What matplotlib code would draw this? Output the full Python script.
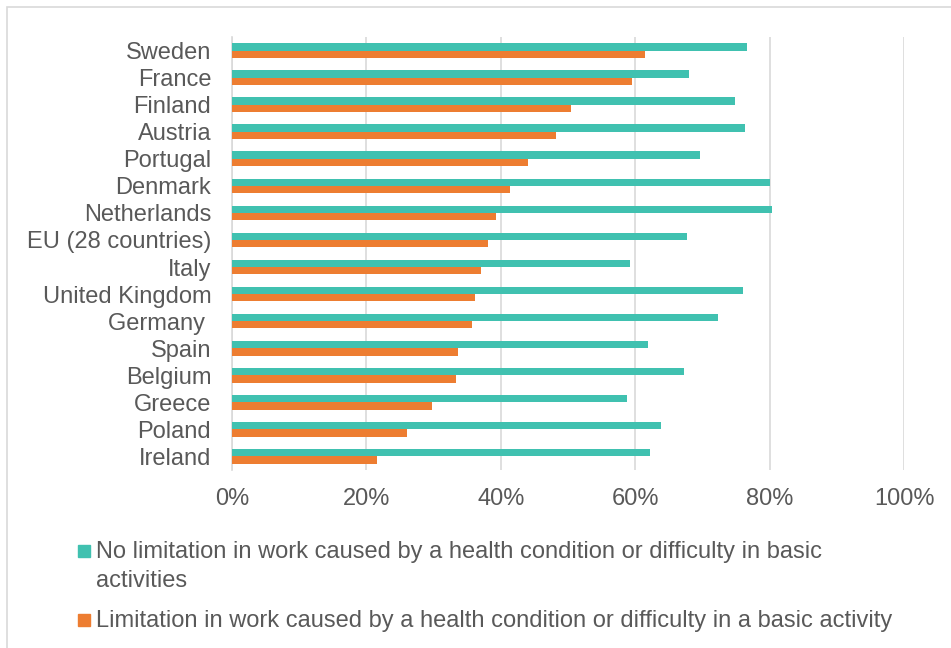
import matplotlib
matplotlib.use("Agg")
import matplotlib.pyplot as plt
from matplotlib.patches import Rectangle
from matplotlib.ticker import PercentFormatter
import numpy as np

countries = ["Sweden", "France", "Finland", "Austria", "Portugal", "Denmark",
             "Netherlands", "EU (28 countries)", "Italy", "United Kingdom",
             "Germany ", "Spain", "Belgium", "Greece", "Poland", "Ireland"]
no_limitation = [76.6, 68.0, 74.8, 76.4, 69.6, 80.1, 80.4, 67.7,
                 59.3, 76.0, 72.3, 61.9, 67.3, 58.8, 63.8, 62.2]
limitation = [61.4, 59.5, 50.5, 48.2, 44.0, 41.4, 39.3, 38.1,
              37.0, 36.1, 35.7, 33.7, 33.4, 29.7, 26.1, 21.6]
labels = ["No limitation in work caused by a health condition or difficulty in basic\nactivities",
          "Limitation in work caused by a health condition or difficulty in a basic activity"]

teal = "#40c1b0"
orange = "#ed7d31"
grey = "#595959"
W, H = 951, 648

plt.rcParams["font.family"] = ["Liberation Sans", "DejaVu Sans"]

fig = plt.figure(figsize=(W / 100, H / 100), dpi=100)
ax = fig.add_axes([232 / W, 1 - 470 / H, 672 / W, 433 / H])

y = np.arange(len(countries))
h = 0.27
ax.barh(y - h / 2, no_limitation, height=h, color=teal, zorder=3)
ax.barh(y + h / 2, limitation, height=h, color=orange, zorder=3)

ax.set_ylim(len(countries) - 0.5, -0.5)
ax.set_xlim(0, 100)
ax.set_yticks(y)
ax.set_yticklabels(countries, fontsize=17, color=grey)
ax.set_xticks(np.arange(0, 101, 20))
ax.xaxis.set_major_formatter(PercentFormatter(decimals=0))
ax.tick_params(axis="x", labelsize=17, labelcolor=grey, length=0, pad=13)
ax.tick_params(axis="y", length=0, pad=15)
ax.grid(axis="x", color="#d9d9d9", linewidth=1.2, zorder=0)
for s in ["top", "right", "bottom"]:
    ax.spines[s].set_visible(False)
ax.spines["left"].set_color("#d9d9d9")
ax.spines["left"].set_linewidth(1.2)

# legend below the plot: square key next to the first line of each entry
baselines = [558, 627]
for color, label, base in zip([teal, orange], labels, baselines):
    fig.patches.append(Rectangle((78 / W, 1 - (base - 1) / H), 12 / W, 12 / H,
                                 transform=fig.transFigure, color=color))
    for i, line in enumerate(label.split("\n")):
        fig.text(96 / W, 1 - (base + 29 * i) / H, line, fontsize=17,
                 color=grey, va="baseline", ha="left")

# light frame around the chart
fig.patches.append(Rectangle((7 / W, -0.1), 1.2, 1 - 7 / H + 0.1, transform=fig.transFigure,
                             fill=False, edgecolor="#d9d9d9", linewidth=1.2))

fig.savefig("out.png", dpi=100, facecolor="white")
